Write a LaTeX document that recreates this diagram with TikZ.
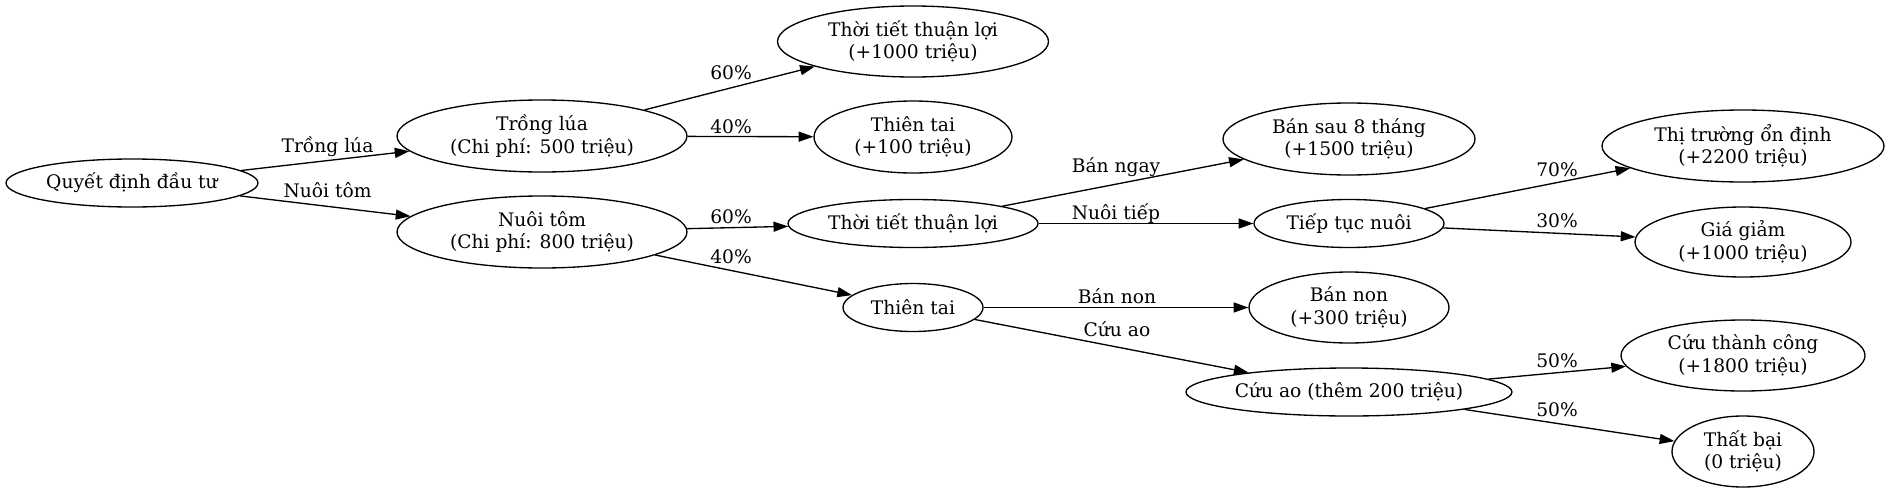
\documentclass[tikz,border=0pt]{standalone}
\usepackage{fontspec}
\setmainfont{DejaVu Serif}
\usetikzlibrary{arrows.meta,shapes.geometric}
\tikzset{
  nd/.style={ellipse, draw, line width=1pt, inner sep=0pt, align=center, font=\fontsize{14pt}{16.8pt}\selectfont},
  sz/.style 2 args={minimum width=#1*0.75pt, minimum height=#2*0.75pt},
  edge/.style={draw, line width=1pt, -{Triangle[length=11pt,width=7.5pt]}},
  lbl/.style={anchor=base, inner sep=0pt, font=\fontsize{14pt}{16.8pt}\selectfont}
}
\begin{document}
\begin{tikzpicture}[x=0.75pt,y=-0.75pt]
\useasboundingbox (0,0) rectangle (1889,493);
% nodes
\node[nd, sz={252}{48}] (q) at (132,183) {Quyết định đầu tư};
\node[nd, sz={290}{72}] (tl) at (542,136) {Trồng lúa\\(Chi phí: 500 triệu)};
\node[nd, sz={290}{72}] (nt) at (542,232) {Nuôi tôm\\(Chi phí: 800 triệu)};
\node[nd, sz={271}{71}] (w1) at (913,41.5) {Thời tiết thuận lợi\\(+1000 triệu)};
\node[nd, sz={198}{72}] (d1) at (913,137) {Thiên tai\\(+100 triệu)};
\node[nd, sz={250}{48}] (w2) at (913,223.5) {Thời tiết thuận lợi};
\node[nd, sz={140}{48}] (d2) at (913,307.5) {Thiên tai};
\node[nd, sz={252}{72}] (bs) at (1349,139) {Bán sau 8 tháng\\(+1500 triệu)};
\node[nd, sz={190}{48}] (tt) at (1349,223.5) {Tiếp tục nuôi};
\node[nd, sz={200}{71}] (bn) at (1349,307.5) {Bán non\\(+300 triệu)};
\node[nd, sz={326}{48}] (ca) at (1349,392) {Cứu ao (thêm 200 triệu)};
\node[nd, sz={282}{72}] (tr) at (1743,146) {Thị trường ổn định\\(+2200 triệu)};
\node[nd, sz={216}{70}] (gg) at (1743,242) {Giá giảm\\(+1000 triệu)};
\node[nd, sz={244}{71}] (ct) at (1743,355.5) {Cứu thành công\\(+1800 triệu)};
\node[nd, sz={142}{71}] (tb) at (1743,451.5) {Thất bại\\(0 triệu)};
% edges
\path[edge] (q) -- (tl);
\path[edge] (q) -- (nt);
\path[edge] (tl) -- (w1);
\path[edge] (tl) -- (d1);
\path[edge] (nt) -- (w2);
\path[edge] (nt) -- (d2);
\path[edge] (w2) -- (bs);
\path[edge] (w2) -- (tt);
\path[edge] (tt) -- (tr);
\path[edge] (tt) -- (gg);
\path[edge] (d2) -- (bn);
\path[edge] (d2) -- (ca);
\path[edge] (ca) -- (ct);
\path[edge] (ca) -- (tb);
% labels
\node[lbl] (l1) at (327.5,152) {Trồng lúa};
\node[lbl] (l2) at (327.5,197) {Nuôi tôm};
\node[lbl] (l3) at (731,79) {60\%};
\node[lbl] (l4) at (731,133) {40\%};
\node[lbl] (l5) at (731,223) {60\%};
\node[lbl] (l6) at (731,263) {40\%};
\node[lbl] (l7) at (1116,172) {Bán ngay};
\node[lbl] (l8) at (1116,219) {Nuôi tiếp};
\node[lbl] (l9) at (1117,303) {Bán non};
\node[lbl] (l10) at (1117,336) {Cứu ao};
\node[lbl] (l11) at (1557,176) {70\%};
\node[lbl] (l12) at (1557,227) {30\%};
\node[lbl] (l13) at (1557,367) {50\%};
\node[lbl] (l14) at (1557,416) {50\%};
\end{tikzpicture}
\end{document}
